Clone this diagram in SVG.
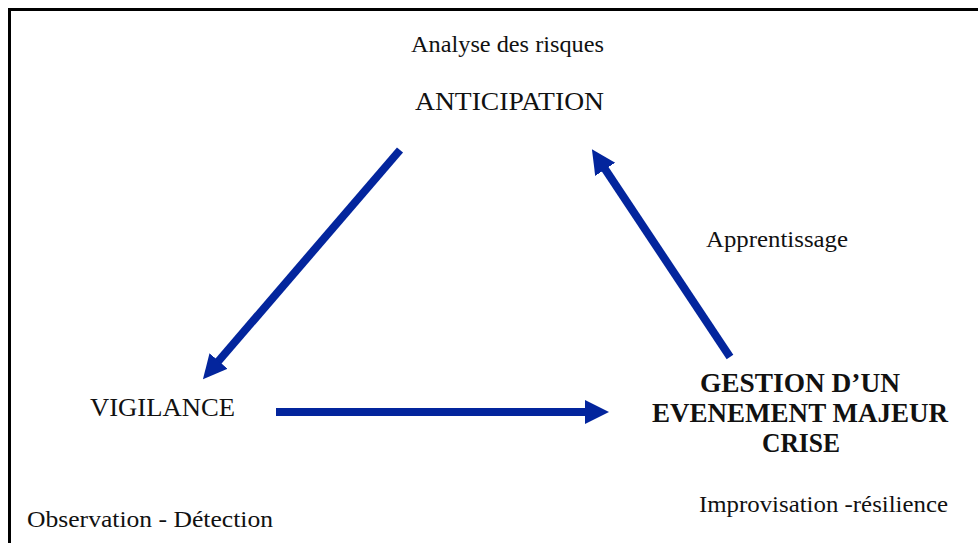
<svg xmlns="http://www.w3.org/2000/svg" width="978" height="543" viewBox="0 0 978 543">
<style>
.t{font-family:"Liberation Serif","Times New Roman",serif;font-size:24px;fill:#111}
.c{font-size:26px}
.b{font-family:"Liberation Serif","Times New Roman",serif;font-size:27px;font-weight:bold;fill:#111;text-anchor:middle}
.arr{stroke:#03259d;stroke-width:8;fill:none;marker-end:url(#ah)}
</style>
<defs>
<marker id="ah" markerUnits="userSpaceOnUse" markerWidth="26" markerHeight="26" refX="4" refY="12" orient="auto">
<path d="M0,0 L24,12 L0,24 z" fill="#03259d"/>
</marker>
</defs>
<rect width="978" height="543" fill="#fff"/>
<rect x="9.5" y="9.5" width="1000" height="600" fill="none" stroke="#000" stroke-width="3"/>
<g id="anticipation">
<text class="t" x="411" y="52" textLength="193" lengthAdjust="spacingAndGlyphs">Analyse des risques</text>
<text class="t c" x="415" y="110" textLength="189" lengthAdjust="spacingAndGlyphs">ANTICIPATION</text>
</g>
<g id="vigilance">
<text class="t c" x="90" y="416" textLength="145" lengthAdjust="spacingAndGlyphs">VIGILANCE</text>
<text class="t" x="27" y="527" textLength="246" lengthAdjust="spacingAndGlyphs">Observation - Détection</text>
</g>
<g id="gestion">
<text class="b" x="800" y="392" textLength="200" lengthAdjust="spacingAndGlyphs">GESTION D’UN</text>
<text class="b" x="800" y="422" textLength="296" lengthAdjust="spacingAndGlyphs">EVENEMENT MAJEUR</text>
<text class="b" x="801" y="452" textLength="78" lengthAdjust="spacingAndGlyphs">CRISE</text>
<text class="t" x="699" y="512" textLength="249" lengthAdjust="spacingAndGlyphs">Improvisation -résilience</text>
</g>
<g id="connectors">
<line class="arr" x1="400" y1="150" x2="216" y2="364"/>
<line class="arr" x1="276" y1="412" x2="589" y2="412"/>
<line class="arr" x1="730" y1="357" x2="603" y2="166"/>
<text class="t" x="706" y="247" textLength="142" lengthAdjust="spacingAndGlyphs">Apprentissage</text>
</g>
</svg>
